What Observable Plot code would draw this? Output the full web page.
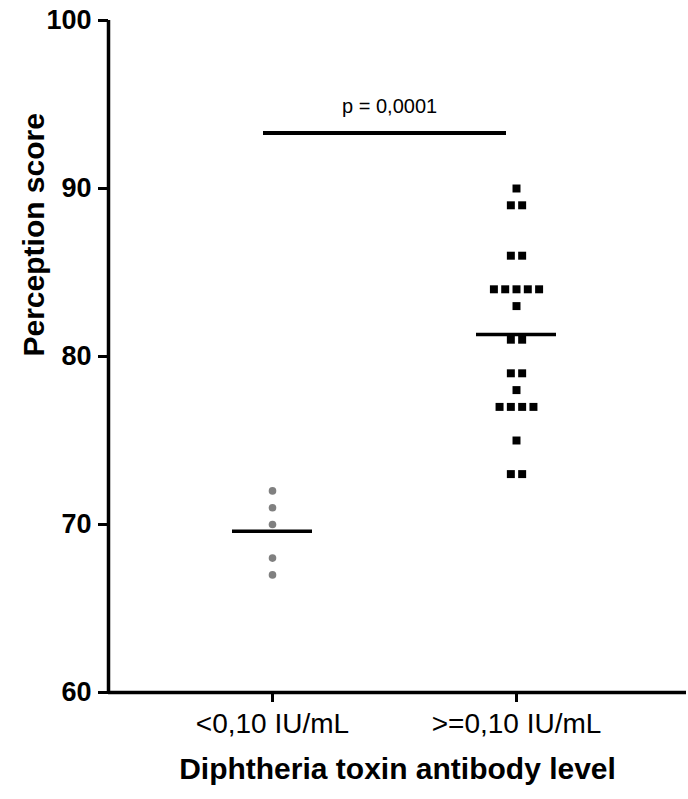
<!DOCTYPE html>
<html>
<head>
<meta charset="utf-8">
<script src="https://cdn.jsdelivr.net/npm/d3@7"></script>
<script src="https://cdn.jsdelivr.net/npm/@observablehq/plot@0.6"></script>
<style>
  html, body { margin: 0; padding: 0; background: #fff; }
</style>
</head>
<body>
<div id="chart"></div>
<script>
// ---- data ----
const categories = ["<0,10 IU/mL", ">=0,10 IU/mL"];
const lowScores = [72, 71, 70, 68, 67];
const highScores = [90, 89, 89, 86, 86, 84, 84, 84, 84, 84, 83, 81, 81, 79, 79, 78, 77, 77, 77, 77, 75, 73, 73];
const yTicks = [60, 70, 80, 90, 100];
const pValueLabel = "p = 0,0001";
const pBarLevel = 93.3;
const yLabel = "Perception score";
const xLabel = "Diphtheria toxin antibody level";

// ---- layout helpers ----
const pxPerUnit = 244;           // x-scale px per category step
const spread = 11.3 / pxPerUnit; // horizontal spacing of tied points
const halfMean = 40 / pxPerUnit; // half-width of mean line

function scatter(values, idx) {
  const counts = d3.rollup(values, v => v.length, d => d);
  const seen = new Map();
  return values.map(v => {
    const n = counts.get(v);
    const j = seen.get(v) || 0;
    seen.set(v, j + 1);
    return {x: idx + (j - (n - 1) / 2) * spread, y: v};
  });
}
const lowPts = scatter(lowScores, 1);
const highPts = scatter(highScores, 2);
const means = [
  {x: 1, mean: d3.mean(lowScores)},
  {x: 2, mean: d3.mean(highScores)}
];

const xDomain = [1 - 164 / pxPerUnit, 2 + 170 / pxPerUnit];

const chart = Plot.plot({
  width: 688,
  height: 799,
  marginLeft: 108,
  marginRight: 2,
  marginTop: 20,
  marginBottom: 107,
  x: {type: "linear", domain: xDomain},
  y: {domain: [60, 100]},
  style: {fontFamily: "'Liberation Sans', Arial, sans-serif", color: "black", background: "white"},
  marks: [
    Plot.axisY({ticks: yTicks, tickSize: 10, tickPadding: 7, fontSize: 27, fontWeight: "bold", label: null, strokeWidth: 3}),
    Plot.axisX({ticks: [1, 2], tickFormat: d => categories[d - 1], tickSize: 10, tickPadding: 11, fontSize: 28, label: null, strokeWidth: 3}),
    Plot.ruleX([xDomain[0]], {y1: 60, y2: 100, strokeWidth: 3.5}),
    Plot.ruleY([60], {strokeWidth: 3.5}),
    Plot.dot(lowPts, {x: "x", y: "y", r: 3.8, fill: "#808080", symbol: "circle"}),
    Plot.dot(highPts, {x: "x", y: "y", r: 4.5, fill: "black", symbol: "square"}),
    Plot.ruleY(means, {y: "mean", x1: d => d.x - halfMean, x2: d => d.x + halfMean, strokeWidth: 3.5}),
    Plot.ruleY([pBarLevel], {x1: 1 - 9 / pxPerUnit, x2: 2 - 10 / pxPerUnit, strokeWidth: 4}),
    Plot.text([pValueLabel], {x: 1.48, y: pBarLevel, text: d => d, dy: -26, fontSize: 20}),
    Plot.text([yLabel], {frameAnchor: "left", dx: -74, rotate: -90, text: d => d, fontSize: 30, fontWeight: "bold"}),
    Plot.text([xLabel], {frameAnchor: "bottom", dy: 86, text: d => d, fontSize: 30, fontWeight: "bold"})
  ]
});
document.getElementById("chart").appendChild(chart);
</script>
</body>
</html>
